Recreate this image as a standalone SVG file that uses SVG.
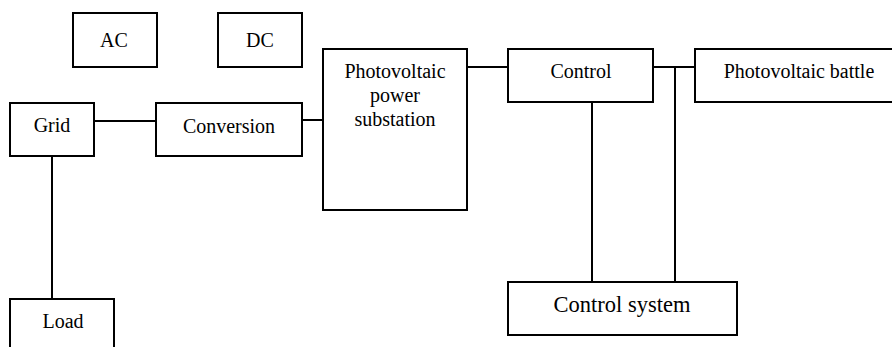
<svg xmlns="http://www.w3.org/2000/svg" width="892" height="347" viewBox="0 0 892 347">
<style>
.box{fill:#fff;stroke:#000;stroke-width:2}
.ln{stroke:#000;stroke-width:2;fill:none}
.t{font-family:'Liberation Serif','Times New Roman',Times,'DejaVu Serif',serif;font-size:20px;fill:#000;text-anchor:middle}
.big{font-size:22.5px}
</style>
<rect width="892" height="347" fill="#fff"/>
<g id="connectors">
<line class="ln" x1="94" y1="121" x2="156" y2="121"/>
<line class="ln" x1="302" y1="120" x2="323" y2="120"/>
<line class="ln" x1="52" y1="156" x2="52" y2="299"/>
<line class="ln" x1="467" y1="67" x2="508" y2="67"/>
<line class="ln" x1="653" y1="67" x2="695" y2="67"/>
<line class="ln" x1="592" y1="102" x2="592" y2="282"/>
<line class="ln" x1="675" y1="67" x2="675" y2="282"/>
</g>
<g id="ac"><rect class="box" x="73" y="13" width="84" height="54"/><text class="t" font-family="Liberation Serif, serif" x="114" y="47">AC</text></g>
<g id="dc"><rect class="box" x="218" y="13" width="84" height="54"/><text class="t" font-family="Liberation Serif, serif" x="260" y="47">DC</text></g>
<g id="grid"><rect class="box" x="10" y="103" width="84" height="53"/><text class="t" font-family="Liberation Serif, serif" x="52" y="132">Grid</text></g>
<g id="conversion"><rect class="box" x="156" y="103" width="146" height="53"/><text class="t" font-family="Liberation Serif, serif" x="229" y="133">Conversion</text></g>
<g id="substation"><rect class="box" x="323" y="49" width="144" height="161"/>
<text class="t" font-family="Liberation Serif, serif" x="395" y="78">Photovoltaic</text><text class="t" font-family="Liberation Serif, serif" x="395" y="102">power</text><text class="t" font-family="Liberation Serif, serif" x="395" y="126">substation</text></g>
<g id="control"><rect class="box" x="508" y="49" width="145" height="53"/><text class="t" font-family="Liberation Serif, serif" x="581" y="78">Control</text></g>
<g id="battle"><rect class="box" x="695" y="49" width="210" height="53"/><text class="t" font-family="Liberation Serif, serif" x="799" y="78">Photovoltaic battle</text></g>
<g id="controlsystem"><rect class="box" x="508" y="282" width="229" height="53"/><text class="t big" font-family="Liberation Serif, serif" x="622" y="312">Control system</text></g>
<g id="load"><rect class="box" x="10" y="299" width="104" height="60"/><text class="t" font-family="Liberation Serif, serif" x="63" y="328">Load</text></g>
</svg>
